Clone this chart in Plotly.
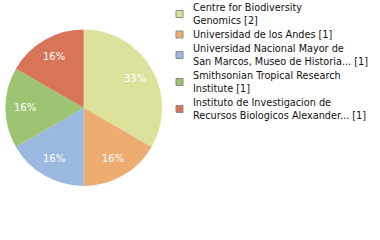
import math
import plotly.graph_objects as go

labels = [
    "Centre for Biodiversity<br>Genomics [2]",
    "Universidad de los Andes [1]",
    "Universidad Nacional Mayor de<br>San Marcos, Museo de Historia... [1]",
    "Smithsonian Tropical Research<br>Institute [1]",
    "Instituto de Investigacion de<br>Recursos Biologicos Alexander... [1]",
]
values = [2, 1, 1, 1, 1]
pct_text = ["33%", "16%", "16%", "16%", "16%"]
colors = ["#dce19c", "#eead70", "#9bb9de", "#9dc473", "#d87458"]

W, H = 380, 240
# pie geometry (pixels)
CX, CY, R = 83.7, 107.8, 78.3
LABEL_R = 0.75 * R

fig = go.Figure(go.Pie(
    labels=labels, values=values,
    textinfo="none",
    sort=False, direction="clockwise", rotation=0,
    marker=dict(colors=colors, line=dict(width=0)),
    domain=dict(x=[(CX - R) / W, (CX + R) / W], y=[1 - (CY + R) / H, 1 - (CY - R) / H]),
    hoverinfo="label+value",
    showlegend=False,
))

annotations = []
shapes = []

# percentage labels, placed at the mid-angle of each slice
total = sum(values)
cum = 0
for v, t in zip(values, pct_text):
    mid = (cum + v / 2) / total * 2 * math.pi
    cum += v
    px = CX + LABEL_R * math.sin(mid)
    py = CY - LABEL_R * math.cos(mid)
    annotations.append(dict(
        x=px / W, y=1 - py / H, xref="paper", yref="paper",
        text=t, showarrow=False, xanchor="center", yanchor="middle",
        font=dict(family="DejaVu Sans", size=10, color="white"),
    ))

# legend drawn as squares + text
LINE_H = 13
GAP = 1
SQ_X0, SQ = 176, 7
TEXT_X = 191
yc = 14
prev_h = None
for lab, col in zip(labels, colors):
    nlines = lab.count("<br>") + 1
    h = nlines * LINE_H
    if prev_h is not None:
        yc += prev_h / 2 + GAP + h / 2
    prev_h = h
    shapes.append(dict(
        type="rect", xref="paper", yref="paper",
        x0=SQ_X0 / W, x1=(SQ_X0 + SQ) / W,
        y0=1 - (yc + SQ / 2) / H, y1=1 - (yc - SQ / 2) / H,
        fillcolor=col, line=dict(color="#8a8a8a", width=1),
    ))
    annotations.append(dict(
        x=TEXT_X / W, y=1 - yc / H, xref="paper", yref="paper",
        text=lab, showarrow=False, xanchor="left", yanchor="middle",
        align="left",
        font=dict(family="DejaVu Sans", size=9.7, color="#111111"),
    ))

fig.update_layout(
    width=W, height=H,
    margin=dict(l=0, r=0, t=0, b=0),
    paper_bgcolor="white", plot_bgcolor="white",
    showlegend=False,
    annotations=annotations,
    shapes=shapes,
)
fig.write_html("out.html")
